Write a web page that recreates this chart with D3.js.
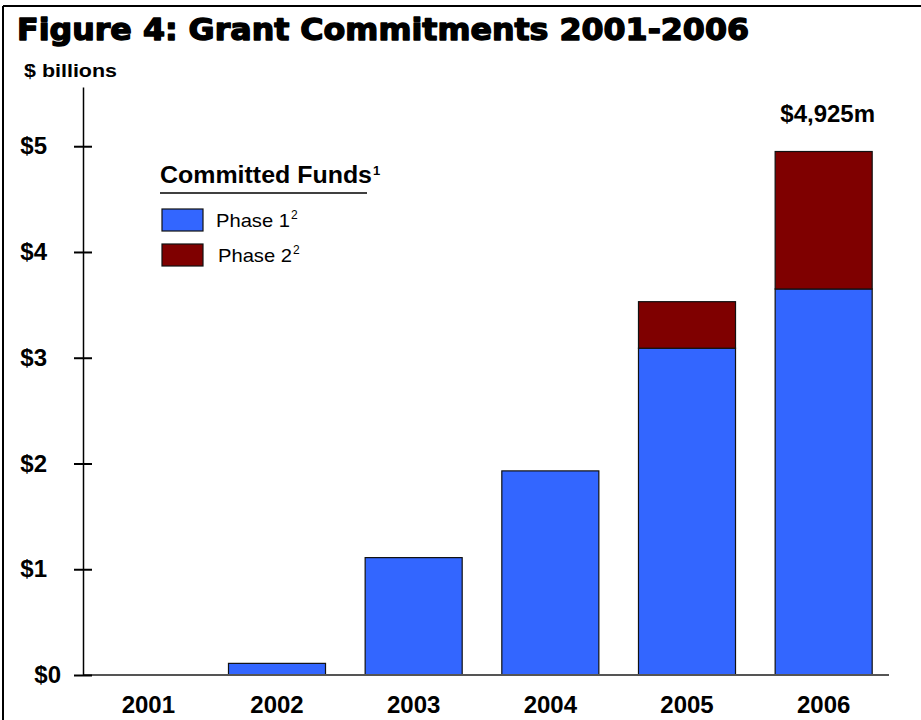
<!DOCTYPE html>
<html>
<head>
<meta charset="utf-8">
<script src="https://cdn.jsdelivr.net/npm/d3@7"></script>
<style>
  html, body { margin: 0; padding: 0; background: #fff; }
  svg { display: block; }
  text { font-family: "Liberation Sans", Arial, sans-serif; fill: #000; }
</style>
</head>
<body>
<svg id="chart" width="921" height="720"></svg>
<script>
// ---- data ----
const years = ["2001", "2002", "2003", "2004", "2005", "2006"];
const phase1 = [0, 0.11, 1.11, 1.93, 3.09, 3.65];
const phase2 = [0, 0, 0, 0, 0.44, 1.30];
const seriesNames = ["Phase 1", "Phase 2"];
const seriesKeys = ["p1", "p2"];
const yTicks = [0, 1, 2, 3, 4, 5];
const yTickLabels = ["$0", "$1", "$2", "$3", "$4", "$5"];
const titleText = "Figure 4: Grant Commitments 2001-2006";
const unitText = "$ billions";
const legendTitle = "Committed Funds";
const totalLabel = "$4,925m";
const totalYear = "2006";

// ---- setup ----
const colors = { p1: "#3366FF", p2: "#7F0000" };
const svg = d3.select("#chart");

const rows = years.map((y, i) => ({ year: y, p1: phase1[i], p2: phase2[i] }));
const stacked = d3.stack().keys(seriesKeys)(rows);

const x = d3.scaleBand().domain(years).range([72, 892]).paddingInner(0.29).paddingOuter(0.145);
const y = d3.scaleLinear().domain([0, 5.56]).range([675, 87]);

// frame
svg.append("line").attr("x1", 3).attr("x2", 921).attr("y1", 6).attr("y2", 6).attr("stroke", "#000").attr("stroke-width", 2);
svg.append("line").attr("x1", 3).attr("x2", 3).attr("y1", 6).attr("y2", 720).attr("stroke", "#000").attr("stroke-width", 2);

// title
svg.append("text").attr("x", 17).attr("y", 40)
  .attr("textLength", 732).attr("lengthAdjust", "spacingAndGlyphs")
  .style("font-family", "'DejaVu Sans', sans-serif").style("font-weight", "900").style("font-size", "30px")
  .attr("stroke", "#000").attr("stroke-width", 1.4).attr("stroke-linejoin", "round")
  .text(titleText);

svg.append("text").attr("x", 24).attr("y", 77)
  .attr("textLength", 93).attr("lengthAdjust", "spacingAndGlyphs")
  .style("font-weight", "bold").style("font-size", "18px").text(unitText);

// bars
const layer = svg.append("g").selectAll("g").data(stacked).join("g")
  .attr("fill", d => colors[d.key]);
layer.selectAll("rect").data(d => d.filter(s => s[1] - s[0] > 0)).join("rect")
  .attr("x", d => x(d.data.year))
  .attr("width", x.bandwidth())
  .attr("y", d => y(d[1]))
  .attr("height", d => y(d[0]) - y(d[1]))
  .attr("stroke", "#111").attr("stroke-width", 1.2);

// x axis baseline
svg.append("line").attr("x1", 83).attr("x2", 889).attr("y1", y(0)).attr("y2", y(0))
  .attr("stroke", "#555").attr("stroke-width", 2);

const xAxis = svg.append("g").attr("transform", `translate(0,${y(0)})`)
  .call(d3.axisBottom(x).tickSize(0).tickPadding(21));
xAxis.select(".domain").remove();
xAxis.selectAll("text").style("font-family", "'Liberation Sans', Arial, sans-serif")
  .style("font-weight", "bold").style("font-size", "24px").attr("fill", "#000")
  .attr("dx", d => d === years[0] ? 8 : 0);

// y axis
const yAxis = svg.append("g").attr("transform", "translate(83,0)")
  .call(d3.axisLeft(y).tickValues(yTicks).tickFormat((d, i) => yTickLabels[i])
    .tickSizeInner(9).tickSizeOuter(0).tickPadding(27));
yAxis.select(".domain").attr("stroke", "#000").attr("stroke-width", 1.5);
yAxis.selectAll(".tick line").attr("x1", 9).attr("x2", -9).attr("stroke", "#000").attr("stroke-width", 2);
yAxis.selectAll("text").style("font-family", "'Liberation Sans', Arial, sans-serif")
  .style("font-weight", "bold").style("font-size", "24px").attr("fill", "#000")
  .attr("dx", d => d === 0 ? 14 : 0);

// total label
svg.append("text").attr("x", x(totalYear) + x.bandwidth() / 2 + 4).attr("y", 122)
  .attr("text-anchor", "middle").style("font-weight", "bold").style("font-size", "24px")
  .text(totalLabel);

// legend
const lg = svg.append("g");
const lt = lg.append("text").attr("x", 160).attr("y", 183)
  .style("font-weight", "bold").style("font-size", "23px");
lt.append("tspan").attr("textLength", 212).attr("lengthAdjust", "spacingAndGlyphs").text(legendTitle);
lt.append("tspan").attr("dy", -8).attr("dx", 1).style("font-size", "13px").text("1");
lg.append("line").attr("x1", 160).attr("x2", 367).attr("y1", 193).attr("y2", 193)
  .attr("stroke", "#000").attr("stroke-width", 1.5);

const legendRows = [
  { key: "p1", name: seriesNames[0], y: 209, tx: 216, ty: 227 },
  { key: "p2", name: seriesNames[1], y: 244, tx: 218, ty: 262 }
];
legendRows.forEach(r => {
  lg.append("rect").attr("x", 162).attr("y", r.y).attr("width", 41).attr("height", 22)
    .attr("fill", colors[r.key]).attr("stroke", "#111").attr("stroke-width", 1.2);
  const t = lg.append("text").attr("x", r.tx).attr("y", r.ty).style("font-size", "19px");
  t.append("tspan").attr("textLength", 74).attr("lengthAdjust", "spacingAndGlyphs").text(r.name);
  t.append("tspan").attr("dy", -8).attr("dx", 1).style("font-size", "12px").text("2");
});
</script>
</body>
</html>
